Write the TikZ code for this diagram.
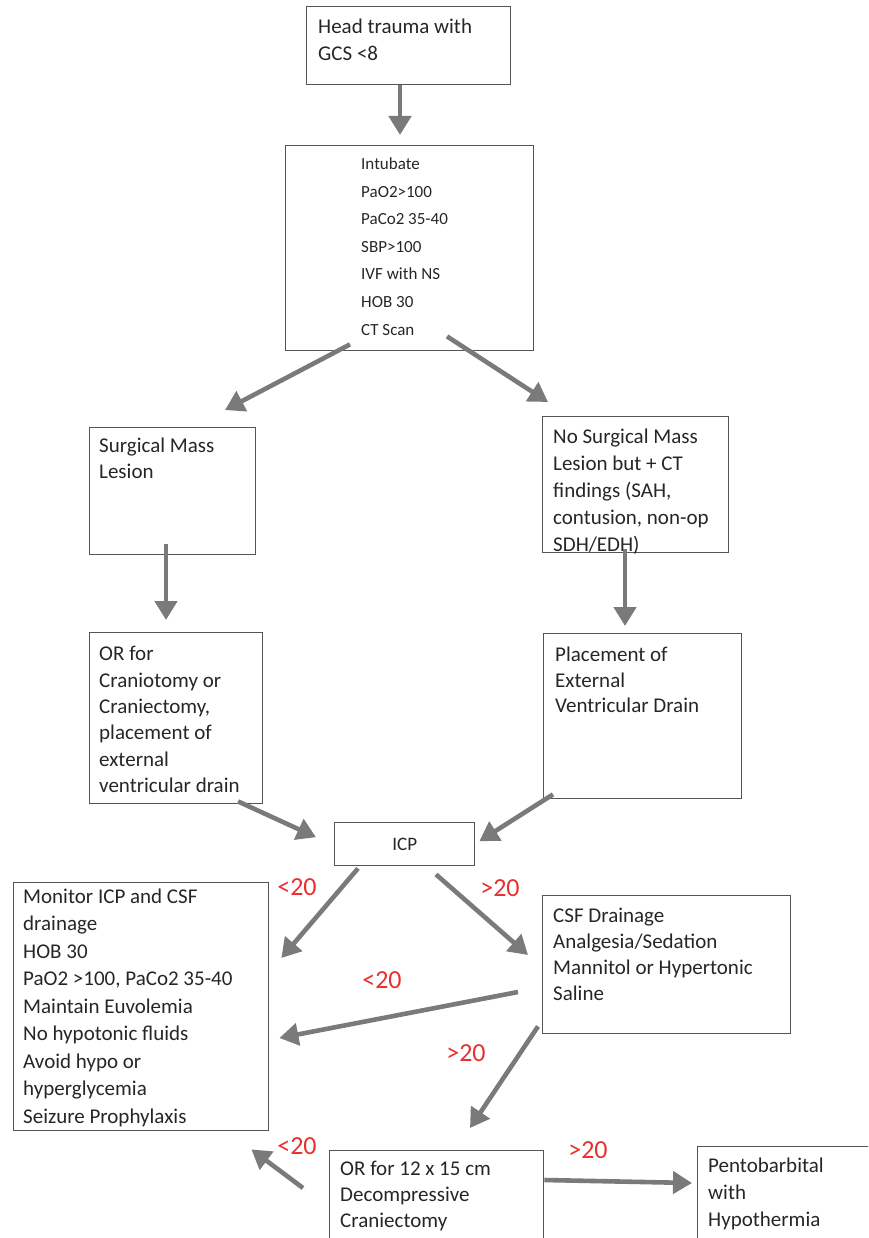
\documentclass[tikz,border=0pt]{standalone}
\usepackage{fontspec}
\setmainfont{Carlito}
\usetikzlibrary{arrows.meta,calc}
\definecolor{arrgray}{RGB}{122,122,122}
\definecolor{boxgray}{RGB}{85,85,85}
\definecolor{lblred}{RGB}{232,48,48}
\tikzset{
  box/.style={draw=boxgray,line width=1.4pt,rectangle,anchor=north west,inner sep=0pt},
  txt/.style={anchor=north west,inner sep=0pt,align=left,text=black!85,font=\fontsize{21}{26.8}\selectfont},
  arr/.style={draw=arrgray,line width=4.6pt,-{Triangle[length=19pt,width=22pt]}},
  lbl/.style={text=lblred,font=\fontsize{26}{28}\selectfont,inner sep=0pt}
}
\begin{document}
\begin{tikzpicture}[x=1pt,y=-1pt]
\useasboundingbox (0,0) rectangle (868,1238);
\clip (0,0) rectangle (868,1238);
% boxes
\node[box,minimum width=204,minimum height=78] (b1) at (306,6) {};
\node[box,minimum width=248,minimum height=205] (b2) at (285,145) {};
\node[box,minimum width=166,minimum height=127] (b3) at (89,427) {};
\node[box,minimum width=186,minimum height=136] (b4) at (542,416) {};
\node[box,minimum width=173,minimum height=171] (b5) at (89,632) {};
\node[box,minimum width=198,minimum height=165] (b6) at (543,633) {};
\node[box,minimum width=140,minimum height=43,font=\fontsize{19}{22}\selectfont,text=black!85] (icp) at (334,822) {ICP};
\node[box,minimum width=255,minimum height=248] (b7) at (13,882) {};
\node[box,minimum width=248,minimum height=138] (b8) at (542,895) {};
\node[box,minimum width=214,minimum height=120] (b9) at (329,1150) {};
\node[box,minimum width=200,minimum height=120] (b10) at (697,1146) {};
% texts
\node[txt] (t1) at (318,15) {\strut Head trauma with\\GCS <8};
\node[txt,font=\fontsize{17}{27.6}\selectfont] (t2) at (361,150) {\strut Intubate\\PaO2>100\\PaCo2 35-40\\SBP>100\\IVF with NS\\HOB 30\\CT Scan};
\node[txt,font=\fontsize{21}{26}\selectfont] (t3) at (99,434) {\strut Surgical Mass\\Lesion};
\node[txt,font=\fontsize{21}{27}\selectfont] (t4) at (553,424) {\strut No Surgical Mass\\Lesion but + CT\\findings (SAH,\\contusion, non-op\\SDH/EDH)};
\node[txt,font=\fontsize{21}{26.4}\selectfont] (t5) at (99,642) {\strut OR for\\Craniotomy or\\Craniectomy,\\placement of\\external\\ventricular drain};
\node[txt,font=\fontsize{21}{25.8}\selectfont] (t6) at (555,643) {\strut Placement of\\External\\Ventricular Drain};
\node[txt,font=\fontsize{21}{27.5}\selectfont] (t7) at (23,884) {\strut Monitor ICP and CSF\\drainage\\HOB 30\\PaO2 >100, PaCo2 35-40\\Maintain Euvolemia\\No hypotonic fluids\\Avoid hypo or\\hyperglycemia\\Seizure Prophylaxis};
\node[txt,font=\fontsize{21}{26}\selectfont] (t8) at (553,904) {\strut CSF Drainage\\Analgesia/Sedation\\Mannitol or Hypertonic\\Saline};
\node[txt,font=\fontsize{21}{26}\selectfont] (t9) at (340,1157) {\strut OR for 12 x 15 cm\\Decompressive\\Craniectomy};
\node[txt,font=\fontsize{21}{27}\selectfont] (t10) at (708,1153) {\strut Pentobarbital\\with\\Hypothermia};
% labels
\node[lbl] (l1) at (297,887) {<20};
\node[lbl] (l2) at (500,888) {>20};
\node[lbl] (l3) at (382,980) {<20};
\node[lbl] (l4) at (466,1053) {>20};
\node[lbl] (l5) at (297,1146) {<20};
\node[lbl] (l6) at (588,1150) {>20};
% arrows
\draw[arr] ($(b1.south west)+(94,0)$) -- ($(b2.north west)+(115,-10)$);
\draw[arr] ($(b2.south west)+(65,-7)$) -- ($(b3.north west)+(136,-17)$);
\draw[arr] ($(b2.south west)+(162,-15)$) -- ($(b4.north west)+(6,-14)$);
\draw[arr] ($(b3.south west)+(77,-11)$) -- ($(b5.north west)+(77,-12)$);
\draw[arr] ($(b4.south west)+(83,-4)$) -- ($(b6.north west)+(82,-7)$);
\draw[arr] ($(b5.south west)+(149,-3)$) -- ($(icp.west)+(-18,-7)$);
\draw[arr] ($(b6.south west)+(10,-5)$) -- ($(icp.east)+(4,-3)$);
\draw[arr] ($(icp.south west)+(24,2)$) -- ($(b7.north east)+(12,76)$);
\draw[arr] ($(icp.south west)+(102,8)$) -- ($(b8.north west)+(-14,60)$);
\draw[arr] ($(b8.north west)+(-24,97)$) -- ($(b7.north east)+(10,156)$);
\draw[arr] ($(b8.south west)+(-4,-8)$) -- ($(b9.north west)+(141,-22)$);
\draw[arr] ($(b9.north west)+(-26,38)$) -- ($(b7.south east)+(-18,18)$);
\draw[arr] ($(b9.north east)+(0,30)$) -- ($(b10.north west)+(-5,37)$);
\end{tikzpicture}
\end{document}
